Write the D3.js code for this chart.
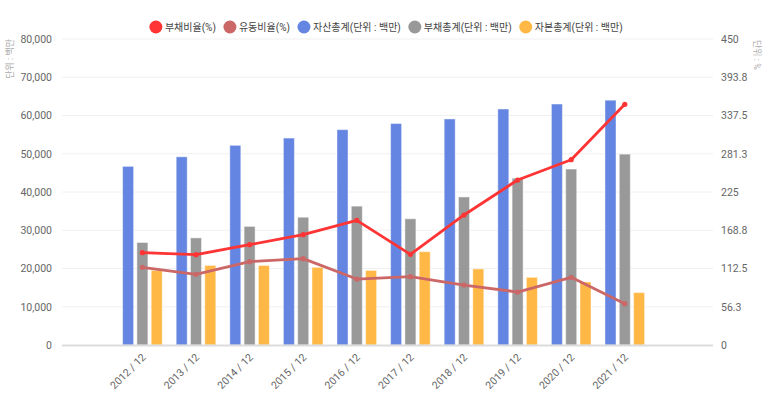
<!DOCTYPE html>
<html>
<head>
<meta charset="utf-8">
<script src="https://cdn.jsdelivr.net/npm/d3@7/dist/d3.min.js"></script>
<style>
  html, body { margin: 0; padding: 0; background: #fff; }
  svg { display: block; font-family: Roboto, "Noto Sans CJK KR", sans-serif; }
</style>
</head>
<body>
<svg id="chart" width="773" height="396"></svg>
<script>
const categories = ["2012 / 12","2013 / 12","2014 / 12","2015 / 12","2016 / 12","2017 / 12","2018 / 12","2019 / 12","2020 / 12","2021 / 12"];
const totalAssets      = [46700, 49200, 52200, 54100, 56300, 57900, 59100, 61700, 63000, 64000];
const totalLiabilities = [26800, 28000, 31000, 33400, 36300, 33000, 38700, 43600, 46000, 49900];
const totalEquity      = [19500, 20800, 20800, 20300, 19500, 24400, 19900, 17700, 16500, 13700];
const debtRatio        = [135.8, 132.8, 147.5, 162.2, 183.3, 133.3, 191.2, 242.6, 272.5, 354.0];
const currentRatio     = [114.2, 104.0, 122.5, 127.0, 97.0, 100.5, 88.2, 77.9, 99.5, 60.8];
const leftTicks = [0,10000,20000,30000,40000,50000,60000,70000,80000];
const rightTicks = [0,56.25,112.5,168.75,225,281.25,337.5,393.75,450];
const rightTickLabels = ["0","56.3","112.5","168.8","225","281.3","337.5","393.8","450"];
const legendNames = ["부채비율(%)","유동비율(%)","자산총계(단위 : 백만)","부채총계(단위 : 백만)","자본총계(단위 : 백만)"];
const leftTitle = "단위 : 백만";
const rightTitle = "단위 : %";

const colors = { assets:"#6485e1", liab:"#999999", equity:"#ffb845", debt:"#ff3434", current:"#cc6767" };
const legendColors = [colors.debt, colors.current, colors.assets, colors.liab, colors.equity];

const svg = d3.select("#chart");
const plot = { left: 62, right: 713, top: 39, bottom: 345 };
const step = 53.6;

const x = d3.scaleBand().domain(categories)
  .range([plot.left + step, plot.left + step * (categories.length + 1)]).padding(0);
const yL = d3.scaleLinear().domain([0, 80000]).range([plot.bottom, plot.top]);
const yR = d3.scaleLinear().domain([0, 450]).range([plot.bottom, plot.top]);

// grid
svg.append("g").selectAll("line").data(leftTicks.filter(d => d > 0)).join("line")
  .attr("x1", plot.left).attr("x2", plot.right)
  .attr("y1", d => yL(d)).attr("y2", d => yL(d))
  .attr("stroke", "#f0f0f0").attr("stroke-width", 1);

// left axis
const gL = svg.append("g").attr("transform", `translate(${plot.left},0)`)
  .call(d3.axisLeft(yL).tickValues(leftTicks).tickSize(0).tickPadding(10).tickFormat(d3.format(",")));
gL.select(".domain").remove();
gL.selectAll("text").attr("fill", "#666").style("font-size", "10.5px").style("font-family", "Roboto, sans-serif");

// right axis
const gR = svg.append("g").attr("transform", `translate(${plot.right},0)`)
  .call(d3.axisRight(yR).tickValues(rightTicks).tickSize(0).tickPadding(8).tickFormat((d, i) => rightTickLabels[i]));
gR.select(".domain").remove();
gR.selectAll("text").attr("fill", "#666").style("font-size", "10.5px").style("font-family", "Roboto, sans-serif");

// axis titles
svg.append("text").attr("transform", `translate(13,${plot.top}) rotate(-90)`)
  .attr("text-anchor", "end").attr("fill", "#aaa").style("font-size", "9px").text(leftTitle);
svg.append("text").attr("transform", `translate(754,${plot.top + 1}) rotate(90)`)
  .attr("text-anchor", "start").attr("fill", "#aaa").style("font-size", "9px").text(rightTitle);

// bars
const bw = 11, bstep = 14.3;
const series = [
  { vals: totalAssets, color: colors.assets, off: -1 },
  { vals: totalLiabilities, color: colors.liab, off: 0 },
  { vals: totalEquity, color: colors.equity, off: 1 }
];
const cx = c => x(c) + x.bandwidth() / 2;
series.forEach(s => {
  svg.append("g").selectAll("rect").data(categories).join("rect")
    .attr("x", c => cx(c) + s.off * bstep - bw / 2)
    .attr("y", (c, i) => yL(s.vals[i]))
    .attr("width", bw)
    .attr("height", (c, i) => yL(0) - yL(s.vals[i]))
    .attr("fill", s.color)
    .attr("stroke", "rgba(255,255,255,0.45)").attr("stroke-width", 1);
});

// zero line
svg.append("line").attr("x1", plot.left).attr("x2", plot.right)
  .attr("y1", yL(0) + 0.5).attr("y2", yL(0) + 0.5)
  .attr("stroke", "#dcdcdc").attr("stroke-width", 2);

// lines
const lines = [
  { vals: currentRatio, color: colors.current },
  { vals: debtRatio, color: colors.debt }
];
lines.forEach(l => {
  const gen = d3.line().x((d, i) => cx(categories[i])).y(d => yR(d));
  svg.append("path").datum(l.vals).attr("d", gen)
    .attr("fill", "none").attr("stroke", l.color).attr("stroke-width", 2.8)
    .attr("stroke-linejoin", "round");
  svg.append("g").selectAll("circle").data(l.vals).join("circle")
    .attr("cx", (d, i) => cx(categories[i])).attr("cy", d => yR(d))
    .attr("r", 2.6).attr("fill", l.color);
});

// x labels
svg.append("g").selectAll("text").data(categories).join("text")
  .attr("transform", c => `translate(${cx(c) + 4},${plot.bottom + 13}) rotate(-45)`)
  .attr("text-anchor", "end").attr("fill", "#666")
  .style("font-size", "10.5px").style("font-family", "Roboto, sans-serif")
  .text(c => c);

// legend
const r = 6.5, textGap = 9, itemGap = 14;
const lg = svg.append("g");
const items = lg.selectAll("g").data(legendNames).join("g");
items.append("circle").attr("r", r).attr("cx", 0).attr("cy", 0).attr("fill", (d, i) => legendColors[i]);
items.append("text").attr("x", textGap).attr("y", 3.5).attr("fill", "#444")
  .style("font-size", "10px").text(d => d);
const widths = [];
items.each(function() { widths.push(d3.select(this).select("text").node().getComputedTextLength()); });
const adv = widths.map(w => textGap + w + itemGap);
const total = r + adv.reduce((a, b) => a + b, 0) - itemGap;
const x0 = 386 - total / 2 + r;
const offs = [];
adv.reduce((acc, a) => { offs.push(acc); return acc + a; }, 0);
items.attr("transform", (d, i) => `translate(${x0 + offs[i]},27)`);
</script>
</body>
</html>
